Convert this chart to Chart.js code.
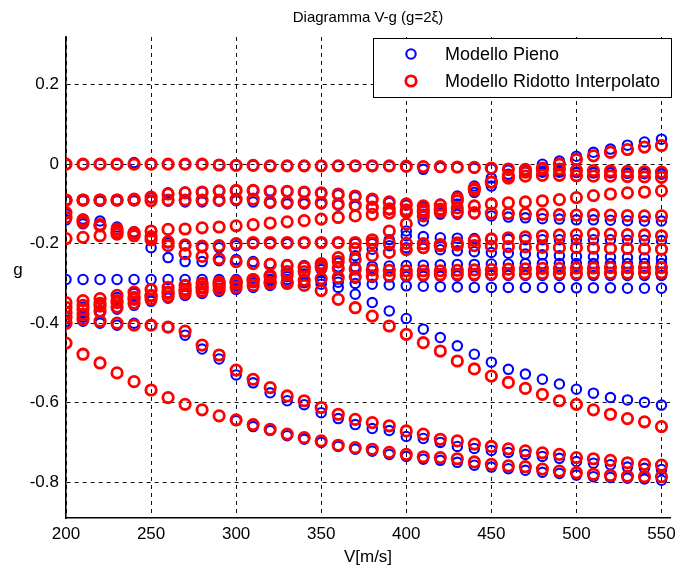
<!DOCTYPE html>
<html>
<head>
<meta charset="utf-8">
<script src="https://cdn.jsdelivr.net/npm/chart.js@4.4.1/dist/chart.umd.min.js"></script>
<style>
  html, body { margin:0; padding:0; background:#fff; }
  #wrap { width:678px; height:572px; }
</style>
</head>
<body>
<div id="wrap"><canvas id="vg" width="678" height="572"></canvas></div>
<script>
// flight speeds (m/s), one sample every 10 m/s
const speeds = [200,210,220,230,240,250,260,270,280,290,300,310,320,330,340,350,360,370,
                380,390,400,410,420,430,440,450,460,470,480,490,500,510,520,530,540,550];

const xTicks = [200,250,300,350,400,450,500,550];
const yTicks = [-0.8,-0.6,-0.4,-0.2,0,0.2];

// Modello Pieno: damping g of each mode, per speed
const blueZero    = [0,0,0,0,0.004,0,0,0,0,-0.002,-0.003,-0.003,-0.004,-0.004,-0.004,-0.004,-0.004,-0.004,-0.004,-0.005,-0.007,-0.013,-0.008,-0.008,-0.01,-0.012,-0.015,-0.018,-0.02,-0.02,-0.021,-0.022,-0.022,-0.023,-0.024,-0.025];
const blueBandHi  = [-0.09,-0.09,-0.093,-0.09,-0.09,-0.085,-0.072,-0.07,-0.07,-0.067,-0.066,-0.065,-0.067,-0.068,-0.07,-0.073,-0.077,-0.082,-0.09,-0.097,-0.103,-0.108,-0.1,-0.08,-0.055,-0.035,-0.025,-0.02,-0.018,-0.018,-0.02,-0.02,-0.021,-0.022,-0.022,-0.022];
const blueBandLo  = [-0.092,-0.092,-0.092,-0.092,-0.092,-0.093,-0.093,-0.095,-0.095,-0.093,-0.092,-0.095,-0.098,-0.1,-0.1,-0.1,-0.103,-0.106,-0.11,-0.115,-0.118,-0.126,-0.122,-0.126,-0.125,-0.13,-0.133,-0.135,-0.137,-0.138,-0.14,-0.14,-0.141,-0.142,-0.143,-0.143];
const blueFlutter = [-0.385,-0.375,-0.37,-0.36,-0.35,-0.342,-0.335,-0.328,-0.32,-0.312,-0.305,-0.298,-0.29,-0.283,-0.276,-0.265,-0.248,-0.23,-0.214,-0.19,-0.168,-0.143,-0.126,-0.1,-0.071,-0.055,-0.03,-0.015,0,0.008,0.02,0.03,0.038,0.048,0.056,0.063];
const blueSlope   = [-0.125,-0.138,-0.143,-0.158,-0.17,-0.21,-0.235,-0.245,-0.245,-0.243,-0.24,-0.245,-0.25,-0.252,-0.255,-0.258,-0.258,-0.258,-0.257,-0.256,-0.255,-0.254,-0.253,-0.252,-0.252,-0.251,-0.251,-0.25,-0.25,-0.25,-0.25,-0.25,-0.25,-0.25,-0.25,-0.25];
const blueFlat    = [-0.14,-0.15,-0.155,-0.165,-0.178,-0.185,-0.198,-0.205,-0.21,-0.21,-0.205,-0.2,-0.2,-0.2,-0.198,-0.198,-0.198,-0.199,-0.2,-0.205,-0.21,-0.212,-0.215,-0.218,-0.22,-0.222,-0.224,-0.226,-0.228,-0.23,-0.232,-0.233,-0.234,-0.235,-0.236,-0.237];
const blueUpper   = [null,null,null,null,null,null,null,null,null,null,null,null,null,null,null,null,null,null,null,null,-0.18,-0.182,-0.185,-0.186,-0.187,-0.188,-0.189,-0.19,-0.19,-0.19,-0.19,-0.19,-0.19,-0.191,-0.191,-0.192];
const blueKeel    = [-0.395,-0.385,-0.375,-0.365,-0.355,-0.345,-0.337,-0.33,-0.325,-0.32,-0.315,-0.31,-0.305,-0.3,-0.296,-0.292,-0.289,-0.287,-0.285,-0.284,-0.283,-0.282,-0.282,-0.281,-0.281,-0.28,-0.28,-0.28,-0.28,-0.28,-0.28,-0.28,-0.28,-0.28,-0.28,-0.28];
const blueLevel   = [-0.29,-0.29,-0.29,-0.29,-0.29,-0.29,-0.29,-0.29,-0.29,-0.29,-0.29,-0.29,-0.29,-0.29,-0.292,-0.295,-0.297,-0.3,-0.302,-0.304,-0.306,-0.307,-0.308,-0.309,-0.31,-0.31,-0.31,-0.31,-0.31,-0.31,-0.311,-0.311,-0.311,-0.312,-0.312,-0.312];
const blueDive    = [-0.37,-0.36,-0.35,-0.335,-0.325,-0.315,-0.31,-0.305,-0.3,-0.298,-0.296,-0.295,-0.295,-0.296,-0.298,-0.302,-0.31,-0.327,-0.348,-0.369,-0.388,-0.415,-0.436,-0.457,-0.478,-0.498,-0.516,-0.528,-0.541,-0.553,-0.566,-0.576,-0.587,-0.593,-0.599,-0.606];
const blueFall    = [-0.4,-0.395,-0.4,-0.405,-0.4,-0.405,-0.41,-0.43,-0.465,-0.49,-0.53,-0.55,-0.575,-0.595,-0.605,-0.625,-0.64,-0.655,-0.665,-0.67,-0.685,-0.69,-0.7,-0.71,-0.715,-0.72,-0.725,-0.73,-0.735,-0.74,-0.748,-0.752,-0.756,-0.762,-0.765,-0.768];
const blueLow     = [null,null,null,null,null,null,null,null,null,null,-0.645,-0.66,-0.67,-0.683,-0.692,-0.7,-0.71,-0.717,-0.722,-0.73,-0.735,-0.742,-0.745,-0.75,-0.757,-0.762,-0.766,-0.77,-0.775,-0.778,-0.782,-0.786,-0.788,-0.79,-0.792,-0.795];

// Modello Ridotto Interpolato
const redZero    = [0,0,0,0,0,0,0,0,0,-0.002,-0.003,-0.003,-0.004,-0.004,-0.004,-0.004,-0.004,-0.004,-0.004,-0.004,-0.005,-0.006,-0.006,-0.007,-0.008,-0.01,-0.012,-0.013,-0.013,-0.012,-0.015,-0.016,-0.017,-0.018,-0.019,-0.02];
const redBandHi  = [-0.09,-0.09,-0.09,-0.09,-0.088,-0.083,-0.075,-0.072,-0.07,-0.067,-0.066,-0.066,-0.068,-0.068,-0.07,-0.072,-0.075,-0.08,-0.088,-0.095,-0.1,-0.105,-0.103,-0.085,-0.06,-0.045,-0.035,-0.03,-0.028,-0.028,-0.029,-0.03,-0.03,-0.031,-0.032,-0.033];
const redBandLo  = [-0.09,-0.09,-0.09,-0.09,-0.09,-0.092,-0.09,-0.09,-0.09,-0.09,-0.088,-0.088,-0.095,-0.096,-0.096,-0.097,-0.1,-0.103,-0.108,-0.112,-0.115,-0.115,-0.113,-0.11,-0.105,-0.1,-0.097,-0.095,-0.092,-0.089,-0.084,-0.079,-0.075,-0.072,-0.07,-0.067];
const redFlutter = [-0.36,-0.355,-0.35,-0.343,-0.335,-0.33,-0.322,-0.315,-0.308,-0.302,-0.296,-0.29,-0.284,-0.278,-0.27,-0.255,-0.235,-0.212,-0.19,-0.168,-0.15,-0.13,-0.115,-0.092,-0.065,-0.045,-0.03,-0.02,-0.01,0,0.012,0.021,0.03,0.037,0.043,0.047];
const redRise    = [-0.187,-0.184,-0.18,-0.176,-0.172,-0.168,-0.164,-0.163,-0.16,-0.158,-0.155,-0.152,-0.148,-0.145,-0.142,-0.138,-0.134,-0.13,-0.126,-0.123,-0.121,-0.12,-0.12,-0.121,-0.122,-0.123,-0.124,-0.125,-0.126,-0.127,-0.128,-0.127,-0.128,-0.129,-0.13,-0.13];
const redFlat    = [-0.122,-0.14,-0.152,-0.163,-0.175,-0.182,-0.195,-0.203,-0.206,-0.205,-0.2,-0.197,-0.197,-0.197,-0.197,-0.197,-0.197,-0.197,-0.198,-0.198,-0.199,-0.2,-0.202,-0.203,-0.205,-0.206,-0.207,-0.208,-0.209,-0.21,-0.21,-0.211,-0.212,-0.212,-0.213,-0.214];
const redSink    = [-0.134,-0.146,-0.155,-0.17,-0.18,-0.19,-0.205,-0.225,-0.232,-0.238,-0.245,-0.25,-0.252,-0.255,-0.258,-0.26,-0.262,-0.264,-0.266,-0.267,-0.268,-0.268,-0.268,-0.267,-0.266,-0.265,-0.264,-0.263,-0.262,-0.262,-0.261,-0.261,-0.26,-0.26,-0.26,-0.26];
const redMid     = [-0.373,-0.365,-0.357,-0.348,-0.34,-0.332,-0.325,-0.318,-0.312,-0.306,-0.3,-0.29,-0.28,-0.27,-0.26,-0.25,-0.245,-0.24,-0.23,-0.222,-0.215,-0.21,-0.205,-0.198,-0.192,-0.188,-0.185,-0.183,-0.18,-0.178,-0.177,-0.175,-0.176,-0.177,-0.178,-0.18];
const redKeel    = [-0.385,-0.378,-0.37,-0.36,-0.35,-0.34,-0.333,-0.325,-0.32,-0.315,-0.31,-0.305,-0.3,-0.296,-0.292,-0.288,-0.285,-0.283,-0.281,-0.28,-0.279,-0.278,-0.278,-0.277,-0.277,-0.276,-0.276,-0.276,-0.275,-0.275,-0.275,-0.274,-0.274,-0.274,-0.273,-0.273];
const redDive    = [-0.348,-0.343,-0.338,-0.33,-0.322,-0.315,-0.31,-0.305,-0.3,-0.297,-0.295,-0.295,-0.297,-0.3,-0.305,-0.318,-0.34,-0.361,-0.382,-0.407,-0.428,-0.449,-0.47,-0.495,-0.515,-0.533,-0.549,-0.564,-0.579,-0.595,-0.604,-0.618,-0.629,-0.64,-0.648,-0.66];
const redFall    = [-0.4,-0.39,-0.395,-0.4,-0.405,-0.405,-0.41,-0.42,-0.455,-0.48,-0.518,-0.541,-0.562,-0.583,-0.595,-0.612,-0.629,-0.642,-0.65,-0.658,-0.671,-0.679,-0.692,-0.696,-0.704,-0.71,-0.716,-0.721,-0.726,-0.73,-0.738,-0.741,-0.745,-0.751,-0.755,-0.757];
const redLow     = [-0.45,-0.478,-0.5,-0.525,-0.547,-0.568,-0.587,-0.604,-0.618,-0.633,-0.643,-0.655,-0.667,-0.679,-0.688,-0.696,-0.707,-0.713,-0.717,-0.725,-0.73,-0.736,-0.738,-0.741,-0.749,-0.755,-0.759,-0.761,-0.767,-0.772,-0.776,-0.78,-0.783,-0.785,-0.786,-0.786];

const blueModes = [blueZero, blueBandHi, blueBandLo, blueFlutter, blueSlope, blueFlat, blueUpper,
                   blueKeel, blueLevel, blueDive, blueFall, blueLow];
const redModes  = [redZero, redBandHi, redBandLo, redFlutter, redRise, redFlat, redSink,
                   redMid, redKeel, redDive, redFall, redLow];

const FONT = '"Liberation Sans", Arial, sans-serif';

// flatten all modes of one model into scatter points
function toPoints(modes){
  const pts = [];
  modes.forEach(row => row.forEach((g, i) => {
    if (g !== null) pts.push({x: speeds[i], y: g});
  }));
  return pts;
}

// title, axis labels and the boxed legend (matlab style, inside the axes)
const decor = {
  id: 'decor',
  afterDraw(chart){
    const {ctx, chartArea: a} = chart;
    const cx = (a.left + a.right) / 2;
    ctx.save();
    ctx.fillStyle = '#000';
    ctx.textBaseline = 'middle';
    ctx.textAlign = 'center';
    ctx.font = '15px ' + FONT;
    ctx.fillText('Diagramma V-g (g=2\u03BE)', cx, 18);
    ctx.font = '17px ' + FONT;
    ctx.fillText('V[m/s]', cx, 557);
    ctx.fillText('g', 18, 270);

    // legend box
    const lx = 373, ly = 38, lw = 298, lh = 59;
    ctx.fillStyle = '#fff';
    ctx.fillRect(lx, ly, lw, lh);
    ctx.strokeStyle = '#000';
    ctx.lineWidth = 1;
    ctx.strokeRect(lx + 0.5, ly + 0.5, lw, lh);

    const rows = [
      {label: 'Modello Pieno', color: '#0000ff', r: 4.7, w: 2.1, y: ly + 16},
      {label: 'Modello Ridotto Interpolato', color: '#ff0000', r: 5.2, w: 2.8, y: ly + 43}
    ];
    ctx.textAlign = 'left';
    ctx.font = '18px ' + FONT;
    rows.forEach(r => {
      ctx.beginPath();
      ctx.arc(lx + 38, r.y, r.r, 0, Math.PI * 2);
      ctx.strokeStyle = r.color;
      ctx.lineWidth = r.w;
      ctx.stroke();
      ctx.fillStyle = '#000';
      ctx.fillText(r.label, lx + 72, r.y + 1);
    });
    ctx.restore();
  }
};

const gridStyle = {
  color: '#111',
  lineWidth: 1,
  drawTicks: false,
  drawOnChartArea: true
};
const borderStyle = { display: true, color: '#000', width: 1.6, dash: [4, 4] };

new Chart(document.getElementById('vg'), {
  type: 'scatter',
  data: {
    datasets: [
      {
        label: 'Modello Pieno',
        data: toPoints(blueModes),
        pointStyle: 'circle',
        pointRadius: 4.7,
        pointBorderWidth: 2.1,
        pointBorderColor: '#0000ff',
        pointBackgroundColor: 'rgba(0,0,0,0)',
        order: 2
      },
      {
        label: 'Modello Ridotto Interpolato',
        data: toPoints(redModes),
        pointStyle: 'circle',
        pointRadius: 5.2,
        pointBorderWidth: 2.8,
        pointBorderColor: '#ff0000',
        pointBackgroundColor: 'rgba(0,0,0,0)',
        order: 1
      }
    ]
  },
  options: {
    responsive: false,
    animation: false,
    devicePixelRatio: 1,
    layout: { padding: { top: 37, right: 5, left: 0, bottom: 0 } },
    plugins: {
      legend: { display: false },
      title: { display: false },
      tooltip: { enabled: false }
    },
    scales: {
      x: {
        type: 'linear',
        min: 200,
        max: 555,
        grid: gridStyle,
        border: borderStyle,
        afterBuildTicks: (s) => { s.ticks = xTicks.map(v => ({value: v})); },
        afterFit: (s) => { s.height = 54; s.paddingLeft = 0; s.paddingRight = 0; },
        ticks: {
          autoSkip: false,
          maxRotation: 0,
          padding: 6,
          color: '#000',
          font: { family: FONT, size: 17 }
        }
      },
      y: {
        type: 'linear',
        min: -0.89,
        max: 0.32,
        grid: gridStyle,
        border: borderStyle,
        afterBuildTicks: (s) => { s.ticks = yTicks.map(v => ({value: v})); },
        afterFit: (s) => { s.width = 66; s.paddingTop = 0; s.paddingBottom = 0; },
        ticks: {
          autoSkip: false,
          padding: 7,
          color: '#000',
          font: { family: FONT, size: 17 },
          callback: (v) => v === 0 ? '0' : String(+Number(v).toFixed(1))
        }
      }
    }
  },
  plugins: [decor]
});
</script>
</body>
</html>
